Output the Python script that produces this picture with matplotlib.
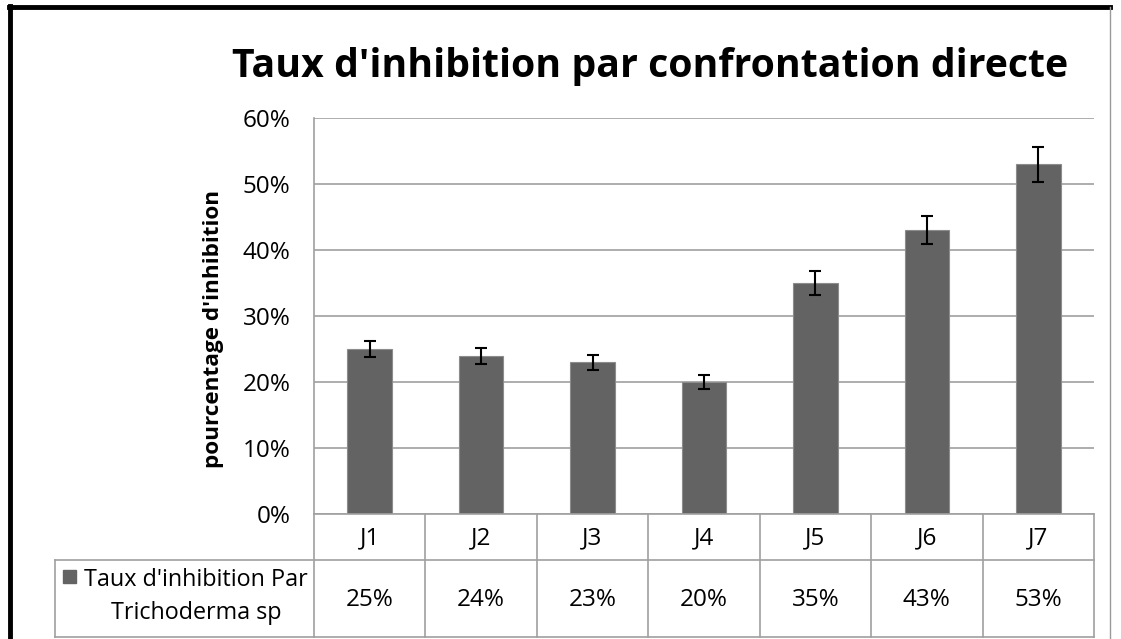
import matplotlib
matplotlib.use("Agg")
import matplotlib.pyplot as plt
from matplotlib.lines import Line2D
from matplotlib.patches import Rectangle

categories = ["J1", "J2", "J3", "J4", "J5", "J6", "J7"]
values = [25, 24, 23, 20, 35, 43, 53]
errors = [1.25, 1.2, 1.15, 1.0, 1.75, 2.15, 2.65]
yticks = [0, 10, 20, 30, 40, 50, 60]
ytick_labels = ["0%", "10%", "20%", "30%", "40%", "50%", "60%"]
value_labels = ["25%", "24%", "23%", "20%", "35%", "43%", "53%"]
series_name = "Taux d'inhibition Par\nTrichoderma sp"
title = "Taux d'inhibition par confrontation directe"
ylabel = "pourcentage d'inhibition"

FONT = ["Open Sans", "DejaVu Sans"]
plt.rcParams["font.family"] = FONT

W, H = 1121, 639
fig = plt.figure(figsize=(W / 100, H / 100), dpi=100)
fig.patch.set_facecolor("white")

BAR = "#636363"
GRID = "#a0a0a0"
TXT = 17.5

def px(x0, y0, x1, y1):
    return [x0 / W, 1 - y1 / H, (x1 - x0) / W, (y1 - y0) / H]

# plot area
L, T, R, B = 314, 118, 1094, 514
ax = fig.add_axes(px(L, T, R, B))
n = len(categories)
xs = list(range(n))
ax.bar(xs, values, width=0.4, color=BAR, edgecolor="#8c8c8c", linewidth=0.8, zorder=3)
ax.errorbar(xs, values, yerr=errors, fmt="none", ecolor="black", elinewidth=1.5,
            capsize=4.6, capthick=1.5, zorder=4)
ax.set_xlim(-0.5, n - 0.5)
ax.set_ylim(0, 60)
ax.set_yticks(yticks)
ax.set_yticklabels(ytick_labels, fontsize=TXT)
ax.set_xticks([])
ax.tick_params(axis="y", length=0, pad=17)
ax.yaxis.grid(True, color=GRID, linewidth=1.2, zorder=0)
for s in ["top", "right", "bottom"]:
    ax.spines[s].set_visible(False)
ax.spines["left"].set_color(GRID)
ax.spines["left"].set_linewidth(1.2)
ax.set_ylabel(ylabel, fontsize=16.2, fontweight="bold")
ax.yaxis.set_label_coords((224 - L) / (R - L), (B - 329) / (B - T))

# data table
TL, TB = 55, 637
HB = 560
colw = (R - L) / n
tab = fig.add_axes(px(TL, B, R, TB))
legx = -0.5 - (L - TL) / colw
tab.set_xlim(legx, n - 0.5)
tab.set_ylim(TB - B, 0)
tab.axis("off")
hrow = HB - B
lw = 1.2
tab.plot([-0.5, n - 0.5], [0, 0], color=GRID, lw=lw, clip_on=False)
tab.plot([legx, n - 0.5], [hrow, hrow], color=GRID, lw=lw, clip_on=False)
tab.plot([legx, n - 0.5], [TB - B, TB - B], color=GRID, lw=lw, clip_on=False)
for i in range(n + 1):
    tab.plot([i - 0.5, i - 0.5], [0, TB - B], color=GRID, lw=lw, clip_on=False)
tab.plot([legx, legx], [hrow, TB - B], color=GRID, lw=lw, clip_on=False)
for i, c in enumerate(categories):
    tab.text(i, hrow / 2 + 1, c, ha="center", va="center", fontsize=TXT)
    tab.text(i, (hrow + TB - B) / 2 + 2, value_labels[i], ha="center", va="center", fontsize=TXT)
tab.text(legx + (196 - TL) / colw, (hrow + TB - B) / 2 - 2, series_name, ha="center", va="center",
         fontsize=16.8, multialignment="center", linespacing=1.45)
tab.add_patch(Rectangle((legx + (63 - TL) / colw, 570 - B), 13 / colw, 13, color=BAR, clip_on=False))

# title
fig.text(650.5 / W, 1 - 66 / H, title, ha="center", va="center", fontsize=28.3, fontweight="bold")

# outer frame
fig.add_artist(Line2D([10 / W, 10 / W], [0, 1 - 6 / H], color="black", lw=3.5))
fig.add_artist(Line2D([8.5 / W, 1110 / W], [1 - 7 / H, 1 - 7 / H], color="black", lw=3.5))
fig.add_artist(Line2D([1110 / W, 1110 / W], [0, 1 - 7 / H], color="#9a9a9a", lw=1.0))

fig.savefig("out.png", dpi=100)
